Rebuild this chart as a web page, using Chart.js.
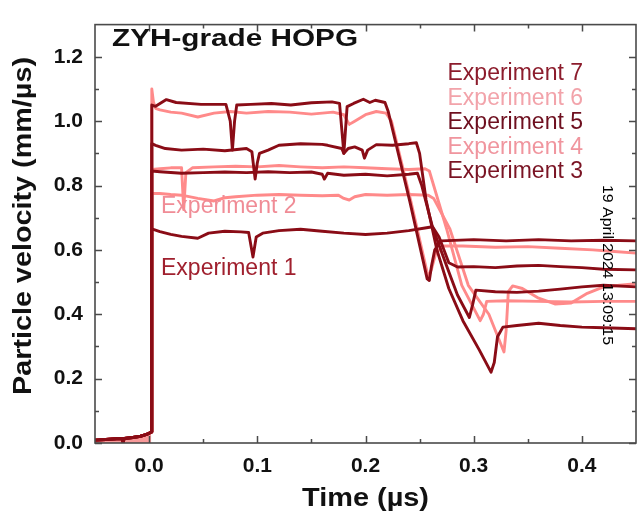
<!DOCTYPE html>
<html>
<head>
<meta charset="utf-8">
<script src="https://cdn.jsdelivr.net/npm/chart.js@4.4.1/dist/chart.umd.min.js"></script>
<style>
    html, body { margin: 0; padding: 0; background: #fff; }
    #wrap { width: 639px; height: 520px; }
</style>
</head>
<body>
<div id="wrap"><canvas id="velocityChart" width="639" height="520"></canvas></div>
<script>
// pre-trigger baseline shared by all shots
const preTime = [-0.05, -0.04, -0.03, -0.025, -0.024, -0.023, -0.015, -0.008, -0.003, 0.0, 0.002];
const preVelocity = [0.009, 0.011, 0.013, 0.014, 0.003, 0.014, 0.017, 0.021, 0.026, 0.03, 0.034];

const exp1Time = [0.0025, 0.01, 0.02, 0.03, 0.045, 0.055, 0.07, 0.085, 0.092, 0.096, 0.099, 0.105, 0.12, 0.14, 0.16, 0.18, 0.2, 0.22, 0.24, 0.255, 0.262, 0.268, 0.277, 0.285, 0.3, 0.32, 0.34, 0.36, 0.38, 0.4, 0.42, 0.45];
const exp1Velocity = [0.665, 0.657, 0.648, 0.642, 0.636, 0.652, 0.658, 0.656, 0.654, 0.578, 0.64, 0.652, 0.66, 0.664, 0.658, 0.652, 0.648, 0.652, 0.66, 0.668, 0.672, 0.64, 0.56, 0.547, 0.548, 0.545, 0.55, 0.552, 0.548, 0.545, 0.54, 0.538];

const exp2Time = [0.0025, 0.01, 0.02, 0.03, 0.045, 0.06, 0.07, 0.08, 0.1, 0.12, 0.14, 0.16, 0.175, 0.18, 0.185, 0.19, 0.2, 0.22, 0.24, 0.258, 0.263, 0.278, 0.295, 0.314, 0.328, 0.33, 0.332, 0.336, 0.345, 0.36, 0.375, 0.39, 0.405, 0.42, 0.435, 0.45];
const exp2Velocity = [0.775, 0.775, 0.772, 0.77, 0.76, 0.752, 0.762, 0.765, 0.77, 0.772, 0.77, 0.768, 0.77, 0.76, 0.755, 0.765, 0.772, 0.77, 0.772, 0.77, 0.76, 0.665, 0.49, 0.4, 0.283, 0.35, 0.47, 0.488, 0.48, 0.45, 0.432, 0.435, 0.465, 0.485, 0.49, 0.495];

const exp3Time = [0.0025, 0.01, 0.03, 0.05, 0.07, 0.09, 0.11, 0.13, 0.15, 0.16, 0.162, 0.165, 0.18, 0.2, 0.22, 0.24, 0.248, 0.252, 0.262, 0.275, 0.285, 0.296, 0.299, 0.302, 0.32, 0.34, 0.36, 0.38, 0.4, 0.42, 0.45];
const exp3Velocity = [0.845, 0.843, 0.838, 0.84, 0.842, 0.84, 0.843, 0.84, 0.842, 0.835, 0.82, 0.838, 0.832, 0.835, 0.83, 0.835, 0.838, 0.8, 0.67, 0.55, 0.46, 0.39, 0.43, 0.475, 0.47, 0.468, 0.472, 0.478, 0.485, 0.49, 0.485];

const exp4Time = [0.0025, 0.01, 0.02, 0.03, 0.032, 0.034, 0.04, 0.06, 0.08, 0.1, 0.12, 0.14, 0.16, 0.18, 0.2, 0.22, 0.24, 0.255, 0.259, 0.275, 0.289, 0.306, 0.309, 0.312, 0.33, 0.36, 0.39, 0.42, 0.45];
const exp4Velocity = [0.85, 0.852, 0.855, 0.855, 0.725, 0.84, 0.855, 0.858, 0.86, 0.858, 0.862, 0.858, 0.855, 0.858, 0.855, 0.852, 0.85, 0.852, 0.845, 0.665, 0.49, 0.38, 0.4, 0.44, 0.442, 0.44, 0.438, 0.44, 0.44];

const exp5Time = [0.0025, 0.006, 0.015, 0.03, 0.05, 0.07, 0.09, 0.095, 0.098, 0.1, 0.102, 0.11, 0.12, 0.14, 0.16, 0.165, 0.178, 0.18, 0.184, 0.19, 0.197, 0.199, 0.202, 0.21, 0.225, 0.24, 0.247, 0.25, 0.256, 0.266, 0.277, 0.29, 0.305, 0.316, 0.319, 0.322, 0.327, 0.34, 0.36, 0.38, 0.4, 0.42, 0.45];
const exp5Velocity = [0.93, 0.925, 0.915, 0.91, 0.913, 0.908, 0.915, 0.905, 0.82, 0.87, 0.9, 0.91, 0.925, 0.93, 0.928, 0.925, 0.915, 0.9, 0.915, 0.92, 0.91, 0.885, 0.91, 0.927, 0.925, 0.93, 0.933, 0.9, 0.755, 0.6, 0.48, 0.38, 0.29, 0.22, 0.25, 0.33, 0.36, 0.365, 0.372, 0.365, 0.36, 0.358, 0.355];

const exp6Time = [0.0025, 0.004, 0.006, 0.01, 0.02, 0.03, 0.045, 0.06, 0.075, 0.09, 0.11, 0.13, 0.15, 0.17, 0.18, 0.185, 0.19, 0.2, 0.21, 0.219, 0.224, 0.242, 0.258, 0.261, 0.265, 0.272, 0.29, 0.32, 0.35, 0.38, 0.41, 0.43, 0.45];
const exp6Velocity = [1.10, 1.06, 1.04, 1.035, 1.028, 1.025, 1.013, 1.025, 1.03, 1.025, 1.03, 1.028, 1.022, 1.028, 1.02, 0.99, 1.0, 1.02, 1.03, 1.025, 1.0, 0.75, 0.515, 0.54, 0.59, 0.612, 0.612, 0.608, 0.61, 0.605, 0.6, 0.595, 0.59];

const exp7Time = [0.0025, 0.006, 0.016, 0.025, 0.048, 0.071, 0.075, 0.077, 0.079, 0.081, 0.094, 0.113, 0.131, 0.15, 0.169, 0.176, 0.18, 0.183, 0.189, 0.198, 0.204, 0.209, 0.218, 0.221, 0.241, 0.257, 0.259, 0.261, 0.264, 0.27, 0.3, 0.33, 0.36, 0.39, 0.42, 0.45];
const exp7Velocity = [1.05, 1.046, 1.067, 1.058, 1.052, 1.052, 1.0, 0.91, 1.0, 1.05, 1.052, 1.055, 1.05, 1.057, 1.06, 1.055, 0.9, 1.045, 1.055, 1.068, 1.058, 1.065, 1.058, 1.03, 0.75, 0.51, 0.505, 0.55, 0.6, 0.628, 0.632, 0.628, 0.632, 0.628, 0.63, 0.628];

const xTicks = [0, 0.1, 0.2, 0.3, 0.4];
const yTicks = [0, 0.2, 0.4, 0.6, 0.8, 1.0, 1.2];
const legendLabels = ['Experiment 7', 'Experiment 6', 'Experiment 5', 'Experiment 4', 'Experiment 3'];
const legendColors = ['#8c1c2c', '#f2a3aa', '#6e0f1f', '#f0959e', '#7a1424'];

const DARK = '#8a0c16';
const PINK = '#ff8a8a';

function toPoints(t, v) {
    const pts = preTime.map((x, i) => ({ x: x, y: preVelocity[i] }));
    return pts.concat(t.map((x, i) => ({ x: x, y: v[i] })));
}

function makeLine(label, t, v, color, order) {
    return {
        label: label,
        data: toPoints(t, v),
        borderColor: color,
        borderWidth: 2.9,
        borderJoinStyle: 'round',
        pointRadius: 0,
        tension: 0,
        fill: false,
        order: order
    };
}

// fits a string to a given width by stretching horizontally
function fitText(ctx, text, x, y, width) {
    const w = ctx.measureText(text).width;
    ctx.save();
    ctx.translate(x, y);
    ctx.scale(width / w, 1);
    ctx.fillText(text, 0, 0);
    ctx.restore();
}

const decorations = {
    id: 'decorations',
    afterDraw(chart) {
        const ctx = chart.ctx;
        const area = chart.chartArea;
        const xs = chart.scales.x;
        const ys = chart.scales.y;

        // frame
        ctx.save();
        ctx.strokeStyle = '#4a4a4a';
        ctx.lineWidth = 1.6;
        ctx.strokeRect(area.left, area.top, area.right - area.left, area.bottom - area.top);

        // inward ticks on all four sides
        ctx.lineWidth = 1.5;
        const xMinor = xTicks.slice(0, -1).map((v, i) => (v + xTicks[i + 1]) / 2);
        const yMinor = yTicks.slice(0, -1).map((v, i) => (v + yTicks[i + 1]) / 2);
        ctx.beginPath();
        xTicks.concat(xMinor).forEach((v, i) => {
            const len = i < xTicks.length ? 7 : 4;
            const px = Math.round(xs.getPixelForValue(v)) + 0.5;
            ctx.moveTo(px, area.bottom); ctx.lineTo(px, area.bottom - len);
            ctx.moveTo(px, area.top); ctx.lineTo(px, area.top + len);
        });
        yTicks.concat(yMinor).forEach((v, i) => {
            const len = i < yTicks.length ? 7 : 4;
            const py = Math.round(ys.getPixelForValue(v)) + 0.5;
            ctx.moveTo(area.left, py); ctx.lineTo(area.left + len, py);
            ctx.moveTo(area.right, py); ctx.lineTo(area.right - len, py);
        });
        ctx.stroke();

        // title
        ctx.fillStyle = '#111';
        ctx.textBaseline = 'alphabetic';
        ctx.textAlign = 'left';
        ctx.font = 'bold 24px "Liberation Sans", Arial, sans-serif';
        fitText(ctx, 'ZYH-grade HOPG', 112, 46, 246);

        // legend block
        ctx.font = '23px "Liberation Sans", Arial, sans-serif';
        legendLabels.forEach((txt, i) => {
            ctx.fillStyle = legendColors[i];
            ctx.textAlign = 'right';
            ctx.fillText(txt, 583, 80 + i * 24.5);
        });

        ctx.textAlign = 'left';
        ctx.fillStyle = '#f08c96';
        ctx.fillText('Experiment 2', 161, 213);
        ctx.fillStyle = '#a0202e';
        ctx.fillText('Experiment 1', 161, 275);

        // axis titles
        ctx.fillStyle = '#111';
        ctx.font = 'bold 25px "Liberation Sans", Arial, sans-serif';
        ctx.textAlign = 'left';
        fitText(ctx, 'Time (\u00b5s)', 302, 506, 127);
        ctx.save();
        ctx.translate(31, 395);
        ctx.rotate(-Math.PI / 2);
        fitText(ctx, 'Particle velocity (mm/\u00b5s)', 0, 0, 338);
        ctx.restore();

        // timestamp
        ctx.save();
        ctx.translate(603, 185);
        ctx.rotate(Math.PI / 2);
        ctx.font = '14px "Liberation Sans", Arial, sans-serif';
        ctx.fillStyle = '#000';
        ctx.textAlign = 'left';
        fitText(ctx, '19 April 2024 13:09:15', 0, 0, 160);
        ctx.restore();

        ctx.restore();
    }
};

const canvas = document.getElementById('velocityChart');
const ctx = canvas.getContext('2d');

const datasets = [
    makeLine('Experiment 7', exp7Time, exp7Velocity, DARK, 0),
    makeLine('Experiment 5', exp5Time, exp5Velocity, DARK, 0),
    makeLine('Experiment 3', exp3Time, exp3Velocity, DARK, 0),
    makeLine('Experiment 1', exp1Time, exp1Velocity, DARK, 0),
    makeLine('Experiment 6', exp6Time, exp6Velocity, PINK, 1),
    makeLine('Experiment 4', exp4Time, exp4Velocity, PINK, 1),
    makeLine('Experiment 2', exp2Time, exp2Velocity, PINK, 1),
    {
        label: 'baseline',
        data: preTime.map((x, i) => ({ x: x, y: preVelocity[i] })),
        borderWidth: 0,
        pointRadius: 0,
        backgroundColor: 'rgba(245, 120, 120, 0.75)',
        fill: 'origin',
        order: 2
    }
];

new Chart(ctx, {
    type: 'line',
    data: { datasets: datasets },
    options: {
        responsive: false,
        animation: false,
        layout: { padding: { top: 7, right: 3, left: 0, bottom: 0 } },
        plugins: {
            legend: { display: false },
            tooltip: { enabled: false }
        },
        scales: {
            x: {
                type: 'linear',
                min: -0.05,
                max: 0.45,
                afterBuildTicks: s => { s.ticks = xTicks.map(v => ({ value: v })); },
                afterFit: s => { s.height = 77; },
                grid: { display: false, drawTicks: false },
                border: { display: false },
                ticks: {
                    callback: v => v.toFixed(1),
                    color: '#111',
                    font: { family: '"Liberation Sans", Arial, sans-serif', size: 21, weight: 'bold' },
                    padding: 11,
                    maxRotation: 0
                }
            },
            y: {
                type: 'linear',
                min: 0,
                max: 1.3,
                afterBuildTicks: s => { s.ticks = yTicks.map(v => ({ value: v })); },
                afterFit: s => { s.width = 95; },
                grid: { display: false, drawTicks: false },
                border: { display: false },
                ticks: {
                    callback: v => v.toFixed(1),
                    color: '#111',
                    font: { family: '"Liberation Sans", Arial, sans-serif', size: 21, weight: 'bold' },
                    padding: 12
                }
            }
        }
    },
    plugins: [decorations]
});
</script>
</body>
</html>
